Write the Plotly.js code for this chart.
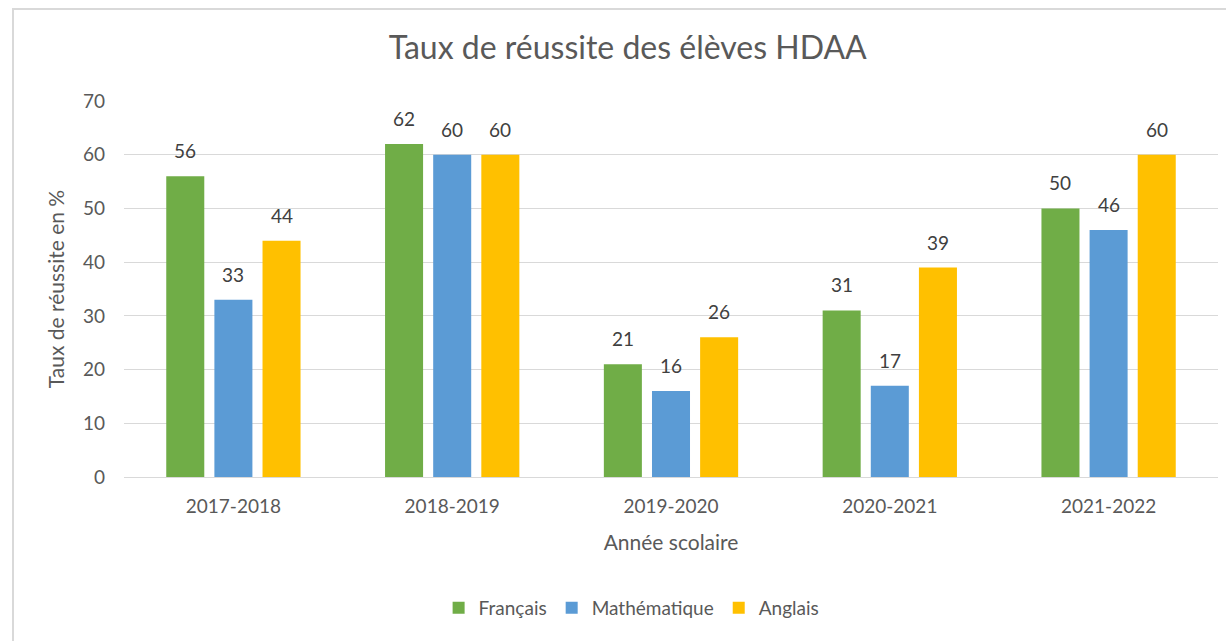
<!DOCTYPE html>
<html><head><meta charset="utf-8">
<script src="https://cdn.plot.ly/plotly-3.0.1.min.js"></script>
<style>
html,body{margin:0;padding:0;background:#fff;overflow:hidden}
#frame{position:absolute;left:12px;top:8px;width:1300px;height:700px;border-left:2px solid #d9d9d9;border-top:2px solid #d9d9d9;pointer-events:none;z-index:5}
#chart{position:absolute;left:0;top:0;width:1226px;height:641px}
</style></head>
<body>
<div id="chart"></div>
<div id="frame"></div>
<script>
const categories = ["2017-2018","2018-2019","2019-2020","2020-2021","2021-2022"];
const francais = [56,62,21,31,50];
const mathematique = [33,60,16,17,46];
const anglais = [44,60,26,39,60];
const seriesNames = ["Français","Mathématique","Anglais"];
const colors = ["#70AD47","#5B9BD5","#FFC000"];
const font = "Lato, Open Sans, sans-serif";
const txtColor = "#595959";

const allSeries = [francais, mathematique, anglais];
const data = allSeries.map((vals, i) => ({
  type: "bar", x: categories, y: vals, name: seriesNames[i],
  marker: {color: colors[i]}
}));

const plotL = 124, plotR = 1218;
const catW = (plotR - plotL) / categories.length;
const bargap = 0.34;
const slot = catW * (1 - bargap) / allSeries.length;
const annotations = [];
allSeries.forEach((vals, i) => {
  vals.forEach((v, j) => {
    annotations.push({
      x: categories[j], y: v, xref: "x", yref: "y", text: String(v),
      showarrow: false, yanchor: "bottom", xanchor: "center",
      xshift: (i - 1) * slot, yshift: 12,
      font: {family: font, size: 19, color: "#404040"}
    });
  });
});

const layout = {
  width: 1226, height: 641,
  margin: {l: plotL, r: 1226 - plotR, t: 101, b: 164},
  paper_bgcolor: "#fff", plot_bgcolor: "#fff",
  title: {text: "Taux de réussite des élèves HDAA", x: 0.512, xanchor: "center", y: 0.925, yanchor: "middle",
          font: {family: font, size: 32, color: txtColor}},
  barmode: "group", bargap: bargap, bargroupgap: 0.21,
  annotations: annotations,
  xaxis: {title: {text: "Année scolaire", font: {family: font, size: 21, color: txtColor}, standoff: 19},
          tickfont: {family: font, size: 19, color: txtColor}, showline: true, linecolor: "#d9d9d9", linewidth: 1,
          ticks: "", showgrid: false, ticklabelstandoff: 12, automargin: false},
  yaxis: {title: {text: "Taux de réussite en %", font: {family: font, size: 21, color: txtColor}, standoff: 12},
          range: [0, 70], dtick: 10, tickfont: {family: font, size: 19, color: txtColor},
          gridcolor: "#d9d9d9", gridwidth: 1, zeroline: false, ticks: "", ticklabelstandoff: 18, automargin: false},
  legend: {orientation: "h", x: 0.464, xanchor: "center", y: -0.348, yanchor: "middle",
           font: {family: font, size: 19, color: txtColor}, itemwidth: 30, traceorder: "normal"}
};
Plotly.newPlot("chart", data, layout, {displayModeBar: false, staticPlot: true});
</script>
</body></html>
